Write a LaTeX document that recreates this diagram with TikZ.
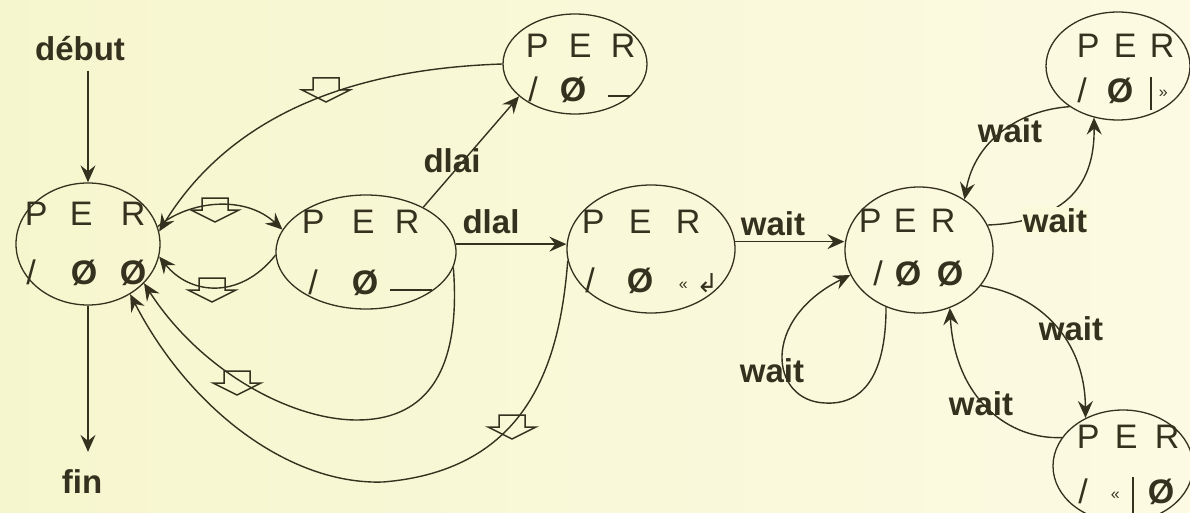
\documentclass[tikz,border=0pt]{standalone}
\usepackage{fontspec}
\setmainfont{Liberation Sans}
\newfontfamily\djv{DejaVu Sans}
\usetikzlibrary{shapes.geometric,arrows.meta}
\definecolor{ink}{RGB}{52,49,30}
\definecolor{bgL}{RGB}{246,246,206}
\definecolor{bgR}{RGB}{252,250,226}
\definecolor{bgM}{RGB}{250,249,218}
\newcommand\g[1]{\makebox[0pt]{#1}}
\newcommand\gp[1]{\hspace{#1pt}}
\newcommand\oo{{\bfseries Ø}}
\newcommand\sm[1]{{\fontsize{16}{16}\selectfont #1}}
\tikzset{
  state/.style={draw=ink, line width=1.3pt, ellipse, inner sep=0pt},
  row/.style={anchor=base west, inner sep=0pt, text=ink, font=\fontsize{34}{34}\selectfont},
  lbl/.style={inner sep=0pt, text=ink, font=\bfseries\fontsize{33}{33}\selectfont, anchor=base},
  arr/.style={draw=ink, line width=1.4pt, -{Stealth[length=17pt,width=15pt,inset=6pt]}},
  icon/.style={draw=ink, line width=1.5pt, line join=miter},
  hangicon/.pic={\path[icon] (-13,-12) -- (13,-12) -- (13,0) -- (24,0) -- (0,12) -- (-24,0) -- (-13,0) -- cycle;}
}
\begin{document}
\begin{tikzpicture}[x=1pt,y=-1pt]
\useasboundingbox (0,0) rectangle (1190,513);
\shade[left color=bgL, right color=bgR] (0,0) rectangle (1190,513);

% states
\node[state, minimum width=144pt, minimum height=122pt] (S0) at (88,244) {};
\node[state, minimum width=180pt, minimum height=114pt] (S1) at (366,252) {};
\node[state, minimum width=144pt, minimum height=100pt] (S2) at (575,64) {};
\node[state, minimum width=168pt, minimum height=128pt] (S3) at (651,249) {};
\node[state, minimum width=148pt, minimum height=126pt] (S4) at (919,250) {};
\node[state, minimum width=144pt, minimum height=108pt] (S5) at (1118,66) {};
\node[state, minimum width=140pt, minimum height=112pt] (S6) at (1123,466) {};

% state texts
\node[row] (S0a) at (36,225) {\g{P}\gp{45}\g{E}\gp{52}\g{R}};
\node[row] (S0b) at (31,284) {\g{/}\gp{53}\g{\oo}\gp{49}\g{\oo}};
\node[row] (S1a) at (313,233) {\g{P}\gp{50}\g{E}\gp{44}\g{R}};
\node[row] (S1b) at (313,294) {\g{/}\gp{52}\g{\oo}\gp{46}\g{\rule[3pt]{42pt}{2pt}}};
\node[row] (S2a) at (537,58) {\g{P}\gp{43}\g{E}\gp{43}\g{R}};
\node[row] (S2b) at (533,102) {\g{/}\gp{40}\g{\oo}\gp{46}\g{\rule[5pt]{22pt}{2pt}}};
\node[row] (S3a) at (593,233) {\g{P}\gp{47}\g{E}\gp{48}\g{R}};
\node[row] (S3b) at (590,292) {\g{/}\gp{50}\g{\oo}\gp{43}\g{\raisebox{3pt}{\sm{«}}}\gp{24}\g{{\djv\fontsize{26}{26}\selectfont ↲}}};
\node[row] (S4a) at (870,232) {\g{P}\gp{35}\g{E}\gp{38}\g{R}};
\node[row] (S4b) at (878,285) {\g{/}\gp{30}\g{\oo}\gp{42}\g{\oo}};
\node[row] (S5a) at (1088,58) {\g{P}\gp{37}\g{E}\gp{37}\g{R}};
\node[row] (S5b) at (1082,103) {\g{/}\gp{38}\g{\oo}\gp{31}\g{\rule[-7pt]{2pt}{33pt}}\gp{12}\g{\raisebox{5pt}{\sm{»}}}};
\node[row] (S6a) at (1088,448) {\g{P}\gp{38}\g{E}\gp{41}\g{R}};
\node[row] (S6b) at (1083,503) {\g{/}\gp{32}\g{\raisebox{4pt}{\sm{«}}}\gp{18}\g{\rule[-10pt]{2pt}{36pt}}\gp{28}\g{\oo}};

% labels
\node[lbl] (deb) at (80,61) {début};
\node[lbl] (fin) at (82,493) {fin};
\node[lbl] (l1) at (452,173) {dlai};
\node[lbl] (l2) at (491,233) {dlal};
\node[lbl] (l3) at (773,235) {wait};
\node[lbl] (l4) at (772,382) {wait};
\node[lbl] (l6) at (1010,143) {wait};
\node[lbl] (l7) at (1071,340) {wait};
\node[lbl] (l8) at (981,415) {wait};

% connectors
\draw[arr, shorten <=9pt] (S0.north |- deb.south) -- (S0.north);
\draw[arr, shorten >=17pt] (S0.south) -- (S0.south |- fin.north);
\draw[arr] (S0.14) .. controls (190,200) and (245,195) .. (S1.165);
\draw[arr] (S1.182) .. controls (240,300) and (190,295) .. (S0.-10);
\draw[arr] (S2.180) .. controls (380,68) and (240,100) .. (S0.10);
\draw[arr] (S1.38) -- (S2.210);
\draw[arr] (S1.5) -- (S1.5 -| S3.west);
\draw[arr] (S1.-10) .. controls (462,380) and (420,420) .. (357,420) .. controls (290,420) and (200,370) .. (S0.-35);
\draw[arr] (S3.188) .. controls (560,360) and (530,470) .. (383,482) .. controls (290,485) and (190,410) .. (S0.-50);
\draw[arr] (S3.5) -- (S3.5 -| S4.west);
\draw[arr] (S4.-120) .. controls (886,380) and (860,405) .. (825,403) .. controls (770,401) and (760,320) .. (S4.200);
\draw[arr] (S4.20) .. controls (1060,222) and (1095,190) .. (S5.-115);
\node[lbl, fill=bgM, inner sep=1pt] (l5) at (1055,232) {wait};
\draw[arr] (S5.-140) .. controls (1020,110) and (975,140) .. (S4.48);
\draw[arr] (S4.-30) .. controls (1040,295) and (1085,340) .. (S6.128);
\draw[arr] (S6.155) .. controls (1010,440) and (955,400) .. (S4.-62);

% hang-up icons
\pic at (215,210) {hangicon};
\pic at (212,290) {hangicon};
\pic at (326,90) {hangicon};
\pic at (237,383) {hangicon};
\pic at (512,427) {hangicon};
\end{tikzpicture}
\end{document}
